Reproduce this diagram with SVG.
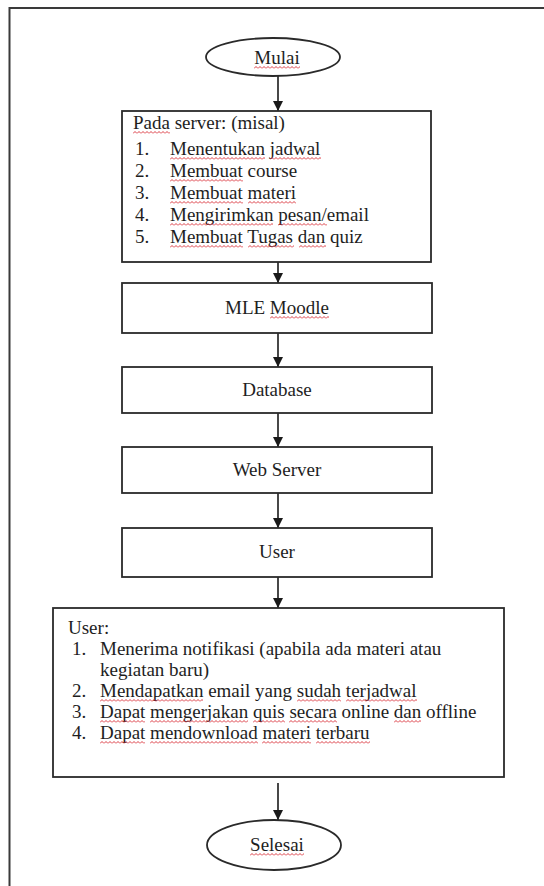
<svg xmlns="http://www.w3.org/2000/svg" width="544" height="886" viewBox="0 0 544 886">
  <style>
    .box { fill: #ffffff; stroke: #2a2a2a; stroke-width: 1.8; }
    .frame { fill: none; stroke: #3a3a3a; stroke-width: 2; }
    .t { font-family: "Liberation Serif", "Times New Roman", serif; font-size: 19px; fill: #1e1e1e; }
    .c { text-anchor: middle; }
    .sq { fill: url(#wave); }
    .conn { stroke: #1a1a1a; stroke-width: 1.6; fill: none; }
  </style>
  <defs>
    <marker id="ah" markerUnits="userSpaceOnUse" markerWidth="10" markerHeight="10" refX="10" refY="5" orient="auto">
      <path d="M0,0 L10,5 L0,10 Z" fill="#1a1a1a"/>
    </marker>
    <pattern id="wave" patternUnits="userSpaceOnUse" x="0" y="0" width="4" height="3">
      <path d="M0,2.5 L2,0.5 L4,2.5" fill="none" stroke="#d8262e" stroke-width="0.9"/>
    </pattern>
  </defs>
  <rect width="544" height="886" fill="#ffffff"/>
  <rect class="frame" x="9.5" y="8" width="560" height="900"/>

  <g id="connectors">
    <line class="conn" x1="278" y1="76" x2="278" y2="111" marker-end="url(#ah)"/>
    <line class="conn" x1="278" y1="262" x2="278" y2="283" marker-end="url(#ah)"/>
    <line class="conn" x1="278" y1="333" x2="278" y2="367" marker-end="url(#ah)"/>
    <line class="conn" x1="278" y1="413" x2="278" y2="447" marker-end="url(#ah)"/>
    <line class="conn" x1="278" y1="493" x2="278" y2="528" marker-end="url(#ah)"/>
    <line class="conn" x1="278" y1="577" x2="278" y2="608" marker-end="url(#ah)"/>
    <line class="conn" x1="278" y1="783" x2="278" y2="820" marker-end="url(#ah)"/>
  </g>

  <g id="mulai">
    <ellipse class="box" cx="273" cy="57" rx="67" ry="19"/>
    <text class="t c" x="277" y="64">Mulai</text>
    <rect class="sq" transform="translate(254,66)" width="46" height="3"/>
  </g>

  <g id="server">
    <rect class="box" x="122" y="111" width="309" height="151"/>
    <text class="t" x="133" y="129">Pada server: (misal)</text>
    <text class="t" x="135" y="155">1.</text>
    <text class="t" x="170" y="155">Menentukan jadwal</text>
    <text class="t" x="135" y="177">2.</text>
    <text class="t" x="170" y="177">Membuat course</text>
    <text class="t" x="135" y="199">3.</text>
    <text class="t" x="170" y="199">Membuat materi</text>
    <text class="t" x="135" y="221">4.</text>
    <text class="t" x="170" y="221">Mengirimkan pesan/email</text>
    <text class="t" x="135" y="243">5.</text>
    <text class="t" x="170" y="243">Membuat Tugas dan quiz</text>
    <rect class="sq" transform="translate(133,131)" width="37" height="3"/>
    <rect class="sq" transform="translate(170,157)" width="95" height="3"/>
    <rect class="sq" transform="translate(270,157)" width="51" height="3"/>
    <rect class="sq" transform="translate(170,179)" width="73" height="3"/>
    <rect class="sq" transform="translate(170,201)" width="73" height="3"/>
    <rect class="sq" transform="translate(248,201)" width="48" height="3"/>
    <rect class="sq" transform="translate(170,223)" width="103" height="3"/>
    <rect class="sq" transform="translate(278,223)" width="49" height="3"/>
    <rect class="sq" transform="translate(170,245)" width="73" height="3"/>
    <rect class="sq" transform="translate(248,245)" width="46" height="3"/>
    <rect class="sq" transform="translate(299,245)" width="27" height="3"/>
  </g>

  <g id="mle">
    <rect class="box" x="122" y="283" width="310" height="50"/>
    <text class="t c" x="277" y="314">MLE Moodle</text>
    <rect class="sq" transform="translate(270,316)" width="59" height="3"/>
  </g>

  <g id="database">
    <rect class="box" x="122" y="367" width="310" height="46"/>
    <text class="t c" x="277" y="396">Database</text>
  </g>

  <g id="webserver">
    <rect class="box" x="122" y="447" width="310" height="46"/>
    <text class="t c" x="277" y="476">Web Server</text>
  </g>

  <g id="user">
    <rect class="box" x="122" y="528" width="310" height="49"/>
    <text class="t c" x="277" y="558">User</text>
  </g>

  <g id="user-actions">
    <rect class="box" x="53" y="608" width="451" height="169"/>
    <text class="t" x="68" y="634">User:</text>
    <text class="t" x="72" y="655">1.</text>
    <text class="t" x="100" y="655">Menerima notifikasi (apabila ada materi atau</text>
    <text class="t" x="100" y="676">kegiatan baru)</text>
    <text class="t" x="72" y="697">2.</text>
    <text class="t" x="100" y="697">Mendapatkan email yang sudah terjadwal</text>
    <text class="t" x="72" y="718">3.</text>
    <text class="t" x="100" y="718">Dapat mengerjakan quis secara online dan offline</text>
    <text class="t" x="72" y="739">4.</text>
    <text class="t" x="100" y="739">Dapat mendownload materi terbaru</text>
    <rect class="sq" transform="translate(100,699)" width="103" height="3"/>
    <rect class="sq" transform="translate(297,699)" width="44" height="3"/>
    <rect class="sq" transform="translate(346,699)" width="71" height="3"/>
    <rect class="sq" transform="translate(100,720)" width="45" height="3"/>
    <rect class="sq" transform="translate(150,720)" width="98" height="3"/>
    <rect class="sq" transform="translate(253,720)" width="32" height="3"/>
    <rect class="sq" transform="translate(289,720)" width="48" height="3"/>
    <rect class="sq" transform="translate(394,720)" width="27" height="3"/>
    <rect class="sq" transform="translate(100,741)" width="45" height="3"/>
    <rect class="sq" transform="translate(150,741)" width="108" height="3"/>
    <rect class="sq" transform="translate(262,741)" width="49" height="3"/>
    <rect class="sq" transform="translate(316,741)" width="54" height="3"/>
  </g>

  <g id="selesai">
    <ellipse class="box" cx="274" cy="845" rx="67" ry="25"/>
    <text class="t c" x="277" y="851">Selesai</text>
    <rect class="sq" transform="translate(250,853)" width="54" height="3"/>
  </g>
</svg>
